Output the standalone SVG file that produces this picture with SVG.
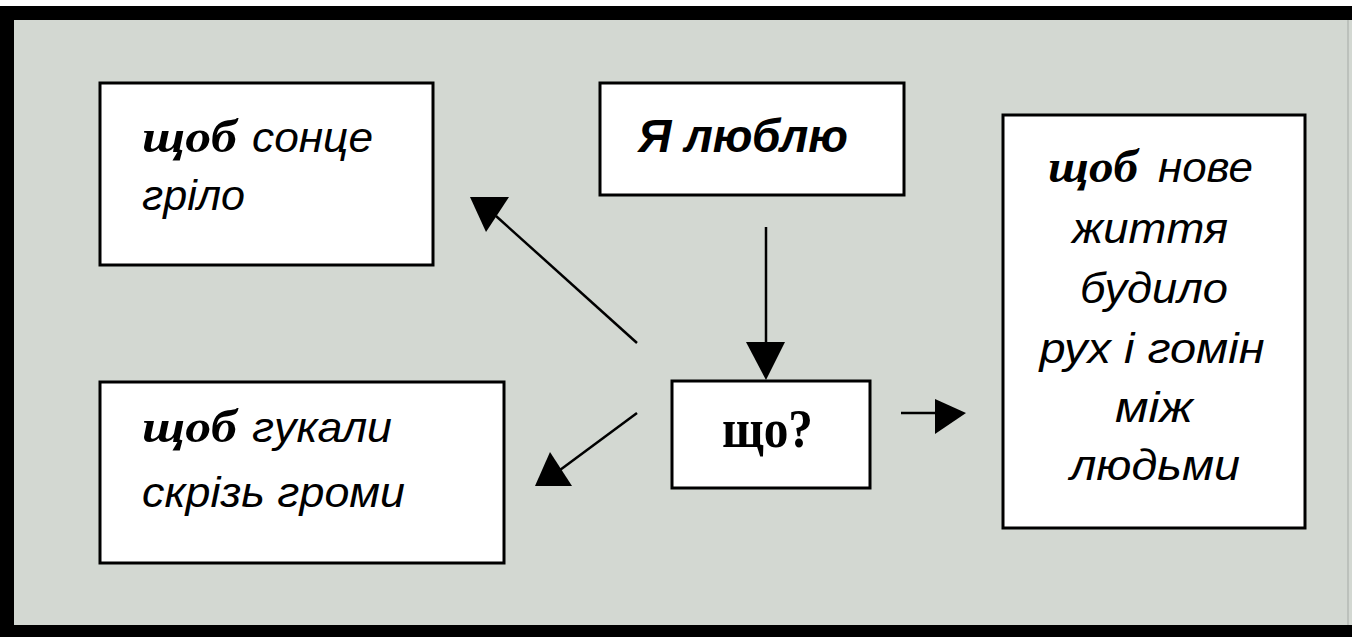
<svg xmlns="http://www.w3.org/2000/svg" width="1352" height="637" viewBox="0 0 1352 637">
<style>
.box{fill:#ffffff;stroke:#000000;stroke-width:3}
.conn line{stroke:#000000;stroke-width:2.5}
.conn polygon{fill:#000000}
.it{font-family:"Liberation Sans",Arial,sans-serif;font-style:italic;font-size:42px;fill:#000}
.bi{font-family:"Liberation Serif","Times New Roman",serif;font-style:italic;font-weight:bold;font-size:46px;fill:#000}
.bsi{font-family:"Liberation Sans",Arial,sans-serif;font-style:italic;font-weight:bold;font-size:46px;fill:#000}
.bs{font-family:"Liberation Serif","Times New Roman",serif;font-weight:bold;font-size:54px;fill:#000}
</style>
<rect x="0" y="0" width="1352" height="637" fill="#ffffff"/>
<rect x="0" y="6" width="1352" height="631" fill="#000000"/>
<rect x="14" y="20" width="1338" height="605" fill="#d3d8d2"/>
<line x1="1348" y1="20" x2="1348" y2="625" stroke="#bcc1bc" stroke-width="2"/>

<g id="node-sun">
<rect class="box" x="100" y="83" width="333" height="182"/>
<text class="bi" x="142" y="152" textLength="95" lengthAdjust="spacingAndGlyphs">щоб</text>
<text class="it" x="252" y="152" textLength="121" lengthAdjust="spacingAndGlyphs">сонце</text>
<text class="it" x="142" y="210" textLength="103" lengthAdjust="spacingAndGlyphs">гріло</text>
</g>

<g id="node-love">
<rect class="box" x="600" y="83" width="304" height="112"/>
<text class="bsi" x="638" y="152" textLength="210" lengthAdjust="spacingAndGlyphs">Я люблю</text>
</g>

<g id="node-life">
<rect class="box" x="1003" y="115" width="302" height="413"/>
<text class="bi" x="1048" y="182" textLength="90" lengthAdjust="spacingAndGlyphs">щоб</text>
<text class="it" x="1158" y="182" textLength="95" lengthAdjust="spacingAndGlyphs">нове</text>
<text class="it" x="1150" y="243" text-anchor="middle" textLength="156" lengthAdjust="spacingAndGlyphs">життя</text>
<text class="it" x="1154" y="303" text-anchor="middle" textLength="148" lengthAdjust="spacingAndGlyphs">будило</text>
<text class="it" x="1152" y="363" text-anchor="middle" textLength="225" lengthAdjust="spacingAndGlyphs">рух і гомін</text>
<text class="it" x="1154" y="422" text-anchor="middle" textLength="78" lengthAdjust="spacingAndGlyphs">між</text>
<text class="it" x="1155" y="480" text-anchor="middle" textLength="170" lengthAdjust="spacingAndGlyphs">людьми</text>
</g>

<g id="node-thunder">
<rect class="box" x="100" y="382" width="404" height="181"/>
<text class="bi" x="142" y="442" textLength="95" lengthAdjust="spacingAndGlyphs">щоб</text>
<text class="it" x="252" y="442" textLength="140" lengthAdjust="spacingAndGlyphs">гукали</text>
<text class="it" x="142" y="507" textLength="263" lengthAdjust="spacingAndGlyphs">скрізь громи</text>
</g>

<g id="node-what">
<rect class="box" x="672" y="381" width="198" height="107"/>
<text class="bs" x="722" y="447" textLength="91" lengthAdjust="spacingAndGlyphs">що?</text>
</g>

<g id="connectors" class="conn">
<line x1="766" y1="227" x2="766" y2="345"/>
<polygon points="746,342 785,342 766,380"/>
<line x1="637" y1="343" x2="496" y2="216"/>
<polygon points="470,197 509,197 486,232"/>
<line x1="637" y1="413" x2="560" y2="470"/>
<polygon points="535,486 572,486 550,452"/>
<line x1="901" y1="413" x2="938" y2="413"/>
<polygon points="935,399 935,434 966,413"/>
</g>
</svg>
